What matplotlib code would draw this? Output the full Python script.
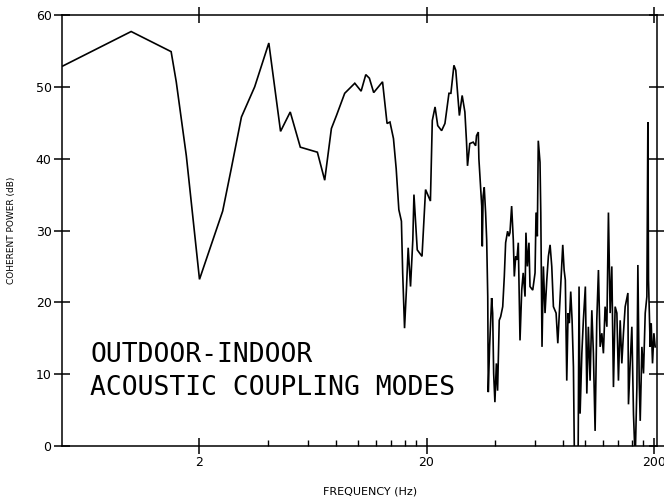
import matplotlib
matplotlib.use('Agg')
import matplotlib.pyplot as plt
from matplotlib.ticker import FixedLocator, FixedFormatter, NullFormatter

# Frequency (Hz) and coherent power (dB)
freq_hz = [0.5, 1.0, 1.5, 1.58, 1.75, 2.0, 2.53, 2.76, 3.06, 3.5,
           4.04, 4.55, 5.02, 5.56, 6.61, 7.12, 7.62, 8.02, 8.72, 9.66,
           10.3, 10.8, 11.2, 11.7, 12.8, 13.4, 13.8, 14.3, 14.7, 15.1,
           15.5, 15.7, 16.0, 16.3, 16.6, 17.0, 17.4, 17.6, 18.2, 19.1,
           19.8, 20.8, 21.2, 21.8, 22.4, 23.3, 24.1, 25.1, 25.6, 26.4,
           26.9, 27.9, 28.7, 29.5, 30.0, 30.3, 31.0, 32.1, 32.9, 33.2,
           33.8, 34.0, 35.0, 35.2, 35.5, 35.9, 36.4, 36.8, 37.2, 37.4,
           37.9, 38.7, 39.1, 39.5, 40.0, 40.6, 41.1, 41.8, 42.4, 43.3,
           44.0, 44.6, 45.5, 46.1, 46.6, 47.4, 48.2, 48.7, 49.4, 50.0,
           50.7, 51.6, 52.5, 53.3, 54.3, 54.8, 55.6, 56.5, 57.1, 58.7,
           60.1, 60.7, 61.5, 62.1, 63.2, 63.7, 64.5, 65.4, 66.5, 67.7,
           68.8, 70.0, 71.2, 72.4, 74.4, 75.7, 76.9, 78.3, 79.6, 80.7,
           81.7, 82.9, 84.0, 85.1, 86.3, 87.5, 88.7, 89.6, 93.0, 93.9,
           94.9, 96.6, 98.1, 100.1, 101.6, 103.2, 105.0, 106.9, 108.6, 110.5,
           112.4, 114.3, 116.3, 118.3, 120.2, 122.3, 124.5, 126.5, 128.7, 130.9,
           133.1, 135.4, 137.8, 140.0, 142.5, 144.9, 147.3, 149.9, 154.1, 155.0,
           157.7, 160.4, 163.1, 165.9, 168.8, 170.5, 172.8, 174.6, 177.6, 180.5,
           183.7, 186.8, 188.7, 189.9, 193.2, 195.2, 197.8, 200.6, 203.2]

power_db = [52.9, 57.7, 54.9, 50.7, 40.4, 23.2, 32.7, 38.6, 45.8, 50.0,
            56.1, 43.8, 46.5, 41.6, 40.9, 37.0, 44.2, 46.0, 49.1, 50.5,
            49.4, 51.7, 51.2, 49.2, 50.7, 44.9, 45.1, 42.8, 38.6, 32.9,
            31.3, 24.1, 16.4, 21.7, 27.6, 22.2, 28.7, 35.0, 27.3, 26.4,
            35.7, 34.1, 45.3, 47.2, 44.6, 43.9, 44.9, 49.1, 49.1, 53.0,
            52.3, 46.0, 48.8, 46.5, 42.3, 39.0, 42.1, 42.3, 41.8, 43.2,
            43.7, 40.0, 33.4, 27.8, 34.8, 36.0, 32.5, 28.7, 20.8, 7.5,
            13.8, 20.6, 18.5, 10.1, 6.1, 11.5, 7.7, 17.5, 18.0, 19.4,
            23.6, 28.3, 29.9, 29.2, 29.7, 33.4, 28.7, 23.6, 26.4, 25.9,
            28.3, 14.7, 21.7, 24.1, 20.8, 29.7, 25.0, 28.3, 22.2, 21.7,
            24.1, 32.5, 29.2, 42.5, 39.5, 32.5, 13.8, 25.0, 18.5, 23.1,
            26.4, 28.0, 25.0, 19.4, 18.5, 14.3, 18.5, 23.6, 28.0, 24.5,
            23.1, 9.1, 18.5, 17.1, 21.5, 17.5, 11.0, -2, -2, 22.2,
            4.5, 12.9, 17.5, 22.2, 7.3, 16.6, 9.1, 18.9, 12.9, 2.1,
            17.5, 24.5, 13.8, 15.7, 12.9, 19.4, 16.6, 32.5, 18.5, 25.0,
            8.2, 19.4, 18.5, 9.1, 17.5, 11.5, 15.7, 19.4, 21.3, 5.8,
            11.5, 16.6, 4.4, -2, 8.2, 25.2, 9.1, 3.5, 13.8, 10.1,
            18.5, 20.8, 45.1, 23.1, 13.8, 17.1, 11.5, 15.7, 13.8]

x_major = [2, 20, 200]
x_major_labels = ['2', '20', '200']
x_minor = [4, 6, 8, 10, 12, 14, 16, 18, 40, 60, 80, 100, 120, 140, 160, 180]
y_major = [0, 10, 20, 30, 40, 50, 60]

fig = plt.figure(figsize=(6.64, 5.04), dpi=100)
ax = fig.add_axes([62 / 664, 58 / 504, 595 / 664, 431 / 504])

ax.plot(freq_hz, power_db, color='black', lw=1.2, solid_joinstyle='miter')

ax.set_xscale('log')
ax.set_xlim(0.496, 207)
ax.set_ylim(0, 60)

ax.xaxis.set_major_locator(FixedLocator(x_major))
ax.xaxis.set_major_formatter(FixedFormatter(x_major_labels))
ax.xaxis.set_minor_locator(FixedLocator(x_minor))
ax.xaxis.set_minor_formatter(NullFormatter())
ax.yaxis.set_major_locator(FixedLocator(y_major))
ax.yaxis.set_minor_locator(FixedLocator([]))

ax.tick_params(which='major', direction='inout', length=11, width=1.1,
               top=True, right=True, labelsize=9, pad=2)
ax.tick_params(axis='x', which='minor', direction='in', length=4, width=1.0,
               top=False, bottom=True)
for s in ax.spines.values():
    s.set_linewidth(1.1)

fig.text(12 / 664, 0.5 * (1 - 15 / 504 + 58 / 504), 'COHERENT POWER (dB)',
         rotation=90, ha='center', va='center', fontsize=6.5)
fig.text(370 / 664, 1 - 492 / 504, 'FREQUENCY (Hz)',
         ha='center', va='center', fontsize=8)

fig.text(90 / 664, 1 - 362 / 504, 'OUTDOOR-INDOOR', family='DejaVu Sans Mono',
         fontsize=19, va='baseline', ha='left')
fig.text(90 / 664, 1 - 395 / 504, 'ACOUSTIC COUPLING MODES', family='DejaVu Sans Mono',
         fontsize=19, va='baseline', ha='left')

fig.savefig('out.png', dpi=100)
